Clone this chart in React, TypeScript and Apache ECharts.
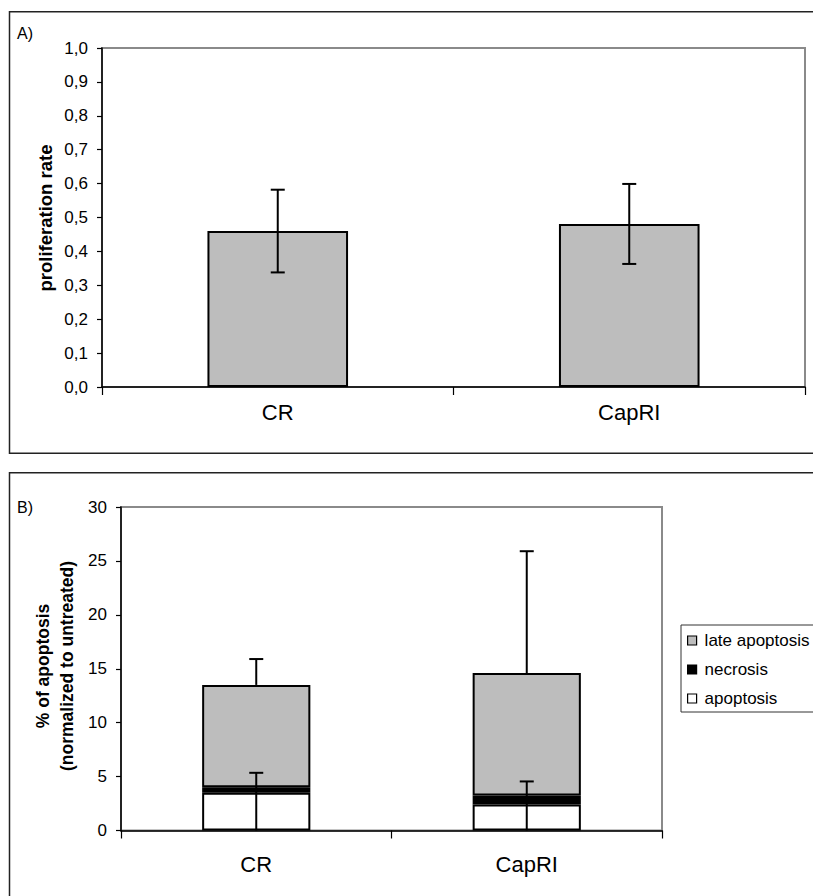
import React, { useEffect, useRef } from "react";
import * as echarts from "echarts";

const categories = ["CR", "CapRI"];
// Panel A
const proliferation = [0.46, 0.481];
const proliferationErr = [0.122, 0.118];
const yTicksA = [0, 0.1, 0.2, 0.3, 0.4, 0.5, 0.6, 0.7, 0.8, 0.9, 1.0];
// Panel B (stacked)
const apoptosis = [3.5, 2.4];
const necrosis = [0.5, 0.85];
const lateApoptosis = [9.5, 11.35];
const totalErr = [2.4, 11.3];
const earlyErr = [1.35, 1.3];
const yTicksB = [0, 5, 10, 15, 20, 25, 30];
const legendNames = ["late apoptosis", "necrosis", "apoptosis"];

const FONT = "'Liberation Sans', Arial, Helvetica, sans-serif";
const GRAY = "#bdbdbd";

export default function App() {
  const ref = useRef<HTMLDivElement>(null);
  useEffect(() => {
    if (!ref.current) return;
    const chart = echarts.init(ref.current, undefined, { renderer: "svg" });

    const errA = categories.map((_, i) => [
      i,
      proliferation[i] - proliferationErr[i],
      proliferation[i] + proliferationErr[i],
      1,
    ]);
    const totals = categories.map((_, i) => apoptosis[i] + necrosis[i] + lateApoptosis[i]);
    const errB = categories.map((_, i) => [i, totals[i], totals[i] + totalErr[i], 0]);
    const errB2 = categories.map((_, i) => [i, 0, apoptosis[i] + necrosis[i] + earlyErr[i], 0]);

    const renderErr = (params: any, api: any) => {
      const x = api.value(0);
      const lo = api.coord([x, api.value(1)]);
      const hi = api.coord([x, api.value(2)]);
      const both = api.value(3) === 1;
      const half = 7;
      const st = { stroke: "#000", lineWidth: 2 };
      const children: any[] = [
        { type: "line", shape: { x1: hi[0], y1: hi[1], x2: lo[0], y2: lo[1] }, style: st },
        { type: "line", shape: { x1: hi[0] - half, y1: hi[1], x2: hi[0] + half, y2: hi[1] }, style: st },
      ];
      if (both) {
        children.push({ type: "line", shape: { x1: lo[0] - half, y1: lo[1], x2: lo[0] + half, y2: lo[1] }, style: st });
      }
      return { type: "group", children };
    };

    const axisLineStyle = { lineStyle: { color: "#000", width: 1.5 } };
    const tickStyle = { lineStyle: { color: "#000", width: 1.2 } };

    chart.setOption({
      animation: false,
      backgroundColor: "#fff",
      textStyle: { fontFamily: FONT },
      grid: [
        { left: 102, right: 8, top: 48, bottom: 896 - 387, show: true, borderColor: "#8a8a8a", borderWidth: 2, containLabel: false },
        { left: 121, right: 151, top: 507, bottom: 896 - 830.5, show: true, borderColor: "#8a8a8a", borderWidth: 2, containLabel: false },
      ],
      xAxis: [
        {
          type: "category", gridIndex: 0, data: categories, boundaryGap: true,
          axisLine: axisLineStyle,
          axisTick: { show: true, length: 8, alignWithLabel: false, ...tickStyle },
          axisLabel: { fontSize: 22, color: "#000", margin: 14, fontFamily: FONT },
        },
        {
          type: "category", gridIndex: 1, data: categories, boundaryGap: true,
          axisLine: axisLineStyle,
          axisTick: { show: true, length: 8, alignWithLabel: false, ...tickStyle },
          axisLabel: { fontSize: 22, color: "#000", margin: 23, fontFamily: FONT },
        },
      ],
      yAxis: [
        {
          type: "value", gridIndex: 0, min: yTicksA[0], max: yTicksA[yTicksA.length - 1], interval: 0.1,
          axisLine: { show: true, ...axisLineStyle },
          axisTick: { show: true, length: 5, ...tickStyle },
          splitLine: { show: false },
          axisLabel: {
            fontSize: 17, color: "#000", margin: 14, fontFamily: FONT,
            formatter: (v: number) => v.toFixed(1).replace(".", ","),
          },
        },
        {
          type: "value", gridIndex: 1, min: yTicksB[0], max: yTicksB[yTicksB.length - 1], interval: 5,
          axisLine: { show: true, ...axisLineStyle },
          axisTick: { show: true, length: 5, ...tickStyle },
          splitLine: { show: false },
          axisLabel: { fontSize: 17, color: "#000", margin: 14, fontFamily: FONT },
        },
      ],
      legend: {
        data: legendNames.map((n) => ({ name: n })),
        orient: "vertical",
        left: 681,
        top: 625,
        itemWidth: 9,
        itemHeight: 9,
        itemGap: 12,
        padding: [7, 30, 5, 6],
        borderColor: "#333",
        borderWidth: 1,
        icon: "rect",
        itemStyle: { borderColor: "#000", borderWidth: 1.2 },
        textStyle: { fontSize: 17, color: "#000", fontFamily: FONT, padding: [0, 0, 0, 3] },
        selectedMode: false,
      },
      graphic: [
        { type: "rect", shape: { x: 9.5, y: 11.7, width: 900, height: 441.6 }, style: { fill: "none", stroke: "#222", lineWidth: 1.5 }, silent: true, z: -1 },
        { type: "rect", shape: { x: 9.5, y: 472.7, width: 900, height: 500 }, style: { fill: "none", stroke: "#222", lineWidth: 1.5 }, silent: true, z: -1 },
        { type: "text", x: 17, y: 33, style: { text: "A)", fill: "#000", font: `16px ${FONT}`, verticalAlign: "middle" } },
        { type: "text", x: 17, y: 507, style: { text: "B)", fill: "#000", font: `16px ${FONT}`, verticalAlign: "middle" } },
        {
          type: "text", x: 45, y: 218, rotation: Math.PI / 2,
          style: { text: "proliferation rate", font: `bold 18.5px ${FONT}`, fill: "#000", align: "center", verticalAlign: "middle" },
        },
        {
          type: "text", x: 55, y: 666, rotation: Math.PI / 2,
          style: {
            text: "% of apoptosis\n(normalized to untreated)", font: `bold 17.5px ${FONT}`, fill: "#000",
            align: "center", verticalAlign: "middle", lineHeight: 24,
          },
        },
      ],
      series: [
        {
          type: "bar", name: "proliferation", xAxisIndex: 0, yAxisIndex: 0, data: proliferation, barWidth: "40%",
          itemStyle: { color: GRAY, borderColor: "#000", borderWidth: 2 },
        },
        {
          type: "custom", xAxisIndex: 0, yAxisIndex: 0, data: errA, renderItem: renderErr, z: 5,
          encode: { x: 0, y: [1, 2] },
        },
        {
          type: "bar", name: "apoptosis", stack: "b", xAxisIndex: 1, yAxisIndex: 1, data: apoptosis, barWidth: "40%",
          itemStyle: { color: "#fff", borderColor: "#000", borderWidth: 2 },
        },
        {
          type: "bar", name: "necrosis", stack: "b", xAxisIndex: 1, yAxisIndex: 1, data: necrosis, barWidth: "40%",
          itemStyle: { color: "#000", borderColor: "#000", borderWidth: 2 },
        },
        {
          type: "bar", name: "late apoptosis", stack: "b", xAxisIndex: 1, yAxisIndex: 1, data: lateApoptosis, barWidth: "40%",
          itemStyle: { color: GRAY, borderColor: "#000", borderWidth: 2 },
        },
        {
          type: "custom", xAxisIndex: 1, yAxisIndex: 1, data: errB, renderItem: renderErr, z: 5,
          encode: { x: 0, y: [1, 2] },
        },
        {
          type: "custom", xAxisIndex: 1, yAxisIndex: 1, data: errB2, renderItem: renderErr, z: 5,
          encode: { x: 0, y: [1, 2] },
        },
      ],
    });
    return () => chart.dispose();
  }, []);

  return (
    <div
      ref={ref}
      style={{ position: "absolute", left: 0, top: 0, width: 813, height: 896, background: "#fff" }}
    />
  );
}
